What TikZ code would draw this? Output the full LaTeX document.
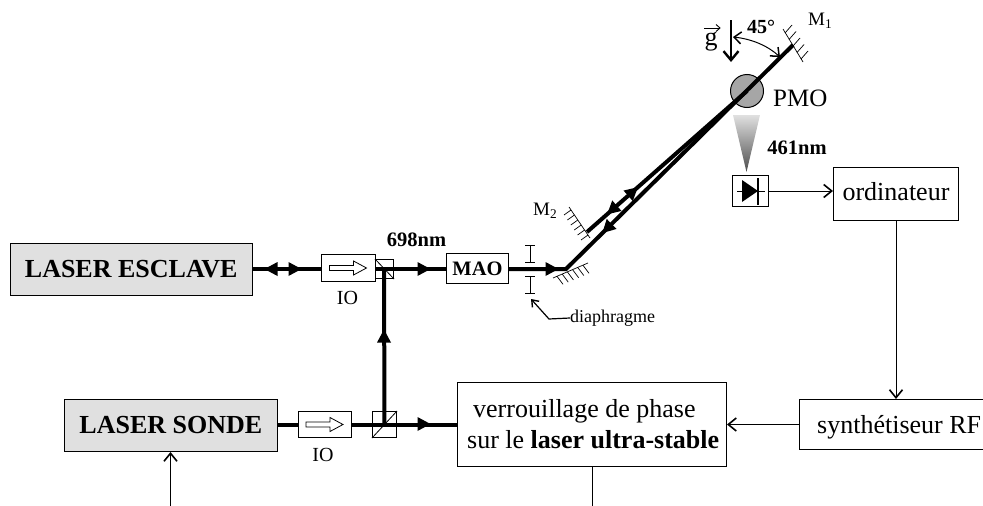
\documentclass[tikz,border=0pt]{standalone}
\usepackage{fontspec}
\setmainfont{Liberation Serif}
\usetikzlibrary{arrows.meta}
\tikzset{
  x=1pt,y=-1pt,
  box/.style={draw,line width=1pt,fill=white,inner sep=0pt,anchor=north west},
  laserbox/.style={box,fill=black!12},
  beam/.style={line width=4pt},
  sig/.style={line width=1pt,-{Straight Barb[length=8pt,width=13pt,line width=1.6pt]}},
  hatch/.style={line width=.7pt},
  txt/.style={inner sep=0pt,font=\fontsize{#1}{#1}\selectfont},
  btxt/.style={inner sep=0pt,font=\bfseries\fontsize{#1}{#1}\selectfont},
}
\newcommand{\ftip}[3]{\fill[rotate around={#3:(#1,#2)}] (#1+6.5,#2) -- (#1-6.5,#2-7) -- (#1-6.5,#2+7) -- cycle;}
\begin{document}
\begin{tikzpicture}
\useasboundingbox (0,0) rectangle (983,506);
% nodes
\coordinate (MA) at (566,269);
\coordinate (MB) at (793,45);
\coordinate (MC) at (587,232);
\coordinate (PMOc) at (747,91);
\node[draw,line width=1pt,circle,fill=black!35,minimum size=33pt,inner sep=0pt] (pmo) at (PMOc) {};
\node[laserbox,minimum width=242.5pt,minimum height=52pt,btxt=26] (esclave) at (9.5,242.7) {LASER ESCLAVE};
\node[laserbox,minimum width=213.3pt,minimum height=52pt,btxt=26] (sonde) at (63.7,399) {LASER SONDE};
\node[box,minimum width=54pt,minimum height=27pt] (io1) at (321,254) {};
\node[box,minimum width=53pt,minimum height=26pt] (io2) at (298,411) {};
\node[box,minimum width=62pt,minimum height=30pt,btxt=20.5] (mao) at (446,253) {MAO};
\node[box,minimum width=269pt,minimum height=84pt] (verr) at (457,382) {};
\node[txt=26,anchor=base west] at (473,417) {verrouillage de phase};
\node[txt=26,anchor=base west] at (467,448) {sur le \textbf{laser ultra-stable}};
\node[box,minimum width=125pt,minimum height=53pt,txt=26] (ordi) at (833,167) {};
\node[txt=26,anchor=base] at (896,200) {ordinateur};
\node[box,minimum width=186pt,minimum height=50pt] (synth) at (799,399) {};
\node[txt=26,anchor=base west] at (817,433) {synthétiseur RF};
\node[box,fill=none,minimum width=18pt,minimum height=19pt] (c1) at (375,259) {};
\node[box,fill=none,minimum width=24pt,minimum height=26pt] (c2) at (372,411) {};
\draw[line width=.8pt] (c1.north west) -- (c1.south east);
\draw[line width=.8pt] (c2.south west) -- (c2.north east);
% beams
\coordinate (Y) at (384,269);
\draw[beam] (esclave.east |- Y) -- (io1.west |- Y);
\draw[beam] (io1.east |- Y) -- (mao.west |- Y);
\draw[beam,line join=miter] (mao.east |- Y) -- (MA) -- (MB);
\draw[beam] (MC) -- (PMOc);
\draw[beam] (Y) -- (c2.center);
\draw[beam] (sonde.east |- c2.center) -- (io2.west |- c2.center);
\draw[beam] (io2.east |- c2.center) -- (verr.west |- c2.center);
% isolators
\foreach \n in {io1,io2}{
  \draw[line width=.8pt,fill=white] ([xshift=-19pt,yshift=-2.5pt]\n.center) -- ([xshift=5pt,yshift=-2.5pt]\n.center) -- ([xshift=5pt,yshift=-7pt]\n.center) -- ([xshift=18pt]\n.center) -- ([xshift=5pt,yshift=7pt]\n.center) -- ([xshift=5pt,yshift=2.5pt]\n.center) -- ([xshift=-19pt,yshift=2.5pt]\n.center) -- cycle;
}
% beam arrowheads
\ftip{271}{269}{180}
\ftip{295}{269}{0}
\ftip{424}{269}{0}
\ftip{552}{269}{0}
\ftip{384}{336}{90}
\ftip{424}{424}{0}
\ftip{633}{191.5}{41.4}
\ftip{612}{210}{221.4}
\ftip{607}{228.5}{224.6}
% diaphragm
\draw[line width=1pt] (525,245) -- (535,245) (530,245) -- (530,262) (525,262) -- (535,262);
\draw[line width=1pt] (525,276) -- (535,276) (530,276) -- (530,293) (525,293) -- (535,293);
\node[txt=18,anchor=west] (dia) at (570,318) {diaphragme};
\draw[line width=1.2pt,-{Straight Barb[length=6pt,width=9pt,line width=1.4pt]}] (dia.west) -- (549,319) -- (531,299);
% mirrors
\draw[hatch] (553,278) -- (588,263);
\foreach \i in {0,...,5}{\draw[hatch] (557+\i*5.2,276.3-\i*2.2) -- (563+\i*5.2,284.3-\i*2.2);}
\draw[hatch] (569,207) -- (590,238);
\foreach \i in {0,...,5}{\draw[hatch] (571+\i*3.4,210+\i*5) -- (564+\i*3.4,215+\i*5);}
\draw[hatch] (783,29) -- (803,62);
\foreach \i in {0,...,4}{\draw[hatch] (785+\i*4,33+\i*6.5) -- (792+\i*4,25+\i*6.5);}
\node[txt=19,anchor=west] at (808,21) {M\textsubscript{1}};
\node[txt=19,anchor=west] at (533,211) {M\textsubscript{2}};
% gravity and angle
\draw[line width=2.4pt,-{Straight Barb[length=9pt,width=15pt,line width=2.4pt]}] (731,20) -- (731,62);
\node[txt=26,anchor=base] (gee) at (711,45) {g};
\draw[line width=.9pt,-{Straight Barb[length=4pt,width=7pt]}] ([yshift=17pt]gee.base west) -- ([yshift=17pt,xshift=3pt]gee.base east);
\draw[line width=1pt,{Straight Barb[length=7pt,width=12pt,line width=1.5pt]}-{Straight Barb[length=7pt,width=12pt,line width=1.5pt]}] (733,37) .. controls (752,39) and (768,46) .. (780,57);
\node[btxt=20] at (761,27) {45°};
% labels
\node[txt=25,anchor=west] at (773,98) {PMO};
\node[btxt=20.5] at (797,148) {461nm};
\node[btxt=20.5] at (416.5,240) {698nm};
\node[txt=20] at (347.5,298) {IO};
\node[txt=20] at (323,455) {IO};
% fluorescence cone
\shade[top color=black!12,bottom color=black!70] (733,115) -- (760,115) -- (746.5,172) -- cycle;
% photodiode
\node[box,minimum width=36pt,minimum height=31pt] (pd) at (732,175) {};
\fill (742,180) -- (758,191) -- (742,202) -- cycle;
\draw[line width=1pt] (737,191) -- (765,191);
\draw[line width=1.6pt] (758,178) -- (758,205);
% signal links
\draw[sig] (pd.east) -- (ordi.west |- pd.east);
\draw[sig] (ordi.south) -- (ordi.south |- synth.north);
\draw[sig] (synth.west) -- (verr.east |- synth.west);
\coordinate (sin) at (170.5,506);
\draw[sig] (sin) -- (sonde.south -| sin);
\coordinate (vout) at (592,506);
\draw[line width=1pt] (verr.south -| vout) -- (vout);
\end{tikzpicture}
\end{document}
